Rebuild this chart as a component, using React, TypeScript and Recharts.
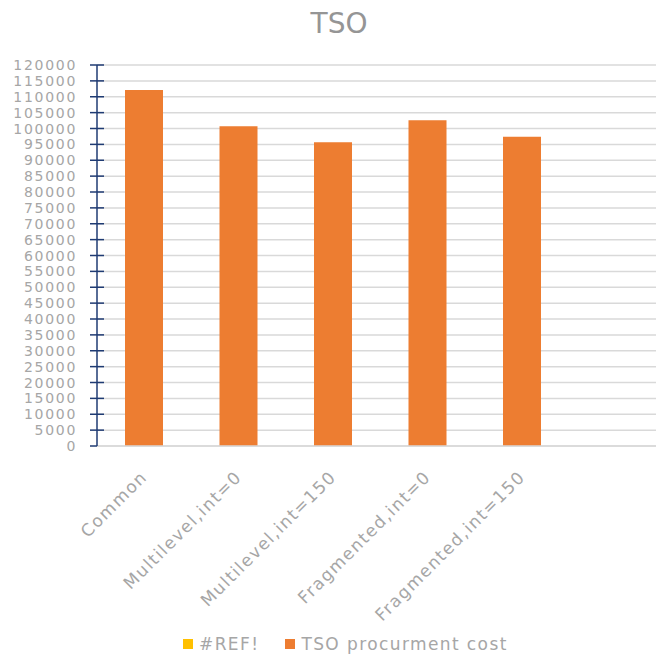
import { BarChart, Bar, XAxis, YAxis, CartesianGrid, Legend } from 'recharts'

// values
const categories = ['Common', 'Multilevel,int=0', 'Multilevel,int=150', 'Fragmented,int=0', 'Fragmented,int=150', '']
const procurementCost = [112100, 100700, 95700, 102600, 97400, null]
const yTicks = [
  0, 5000, 10000, 15000, 20000, 25000, 30000, 35000, 40000, 45000, 50000, 55000, 60000,
  65000, 70000, 75000, 80000, 85000, 90000, 95000, 100000, 105000, 110000, 115000, 120000,
]
const legendItems = [
  { name: '#REF!', color: '#FFC000' },
  { name: 'TSO procurment cost', color: '#ED7D31' },
]

const data = categories.map((name, i) => ({ name, cost: procurementCost[i] }))

const FONT = '"DejaVu Sans", Verdana, sans-serif'
const LABEL = '#a6a6a6'
const NAVY = '#1F3B73'

function YTick({ x, y, payload }: any) {
  const v = payload.value
  return (
    <g>
      <line x1={x + 13} x2={v === 0 ? x + 20 : x + 27} y1={y} y2={y} stroke={NAVY} strokeWidth={1.5} />
      <text x={x} y={y} dy="0.36em" textAnchor="end" fill={LABEL} fontSize={14} letterSpacing={1.7} fontFamily={FONT}>
        {v}
      </text>
    </g>
  )
}

function XTick({ x, y, payload }: any) {
  if (!payload.value) return null
  const ax = x + 4
  const ay = y + 32
  return (
    <text x={ax} y={ay} transform={`rotate(-45 ${ax} ${ay})`} textAnchor="end" fill={LABEL} fontSize={17} letterSpacing={1.5} fontFamily={FONT}>
      {payload.value}
    </text>
  )
}

function LegendBox() {
  return (
    <div style={{ display: 'flex', alignItems: 'center', height: 30, paddingLeft: 183, fontFamily: FONT, fontSize: 17, letterSpacing: 1.4, color: LABEL }}>
      {legendItems.map(it => (
        <div key={it.name} style={{ display: 'flex', alignItems: 'center', marginRight: 26 }}>
          <span style={{ width: 10, height: 10, background: it.color, display: 'inline-block', marginRight: 6 }} />
          <span>{it.name}</span>
        </div>
      ))}
    </div>
  )
}

export default function App() {
  return (
    <div style={{ position: 'absolute', left: 0, top: 0, width: 656, height: 659, overflow: 'hidden', background: '#fff' }}>
      <svg width={656} height={50} style={{ position: 'absolute', left: 0, top: 0 }}>
        <text x={339} y={33} textAnchor="middle" fill="#959595" fontSize={28} fontFamily={FONT}>TSO</text>
      </svg>
      <BarChart width={664} height={659} data={data} margin={{ top: 65, right: 0, left: 0, bottom: 0 }}>
        <CartesianGrid horizontal vertical={false} stroke="#d9d9d9" strokeWidth={1.5} />
        <XAxis dataKey="name" interval={0} height={183} tickLine={false} tickSize={0} tickMargin={0}
          axisLine={{ stroke: '#d9d9d9', strokeWidth: 1.5 }} tick={<XTick />} />
        <YAxis domain={[0, 120000]} ticks={yTicks} interval={0} width={97} tickSize={7} tickMargin={13}
          tickLine={false} axisLine={{ stroke: NAVY, strokeWidth: 1.5 }} tick={<YTick />} />
        <Bar dataKey="cost" fill="#ED7D31" barSize={38} isAnimationActive={false} />
        <Legend verticalAlign="bottom" align="left" wrapperStyle={{ height: 30 }} content={() => <LegendBox />} />
      </BarChart>
    </div>
  )
}
